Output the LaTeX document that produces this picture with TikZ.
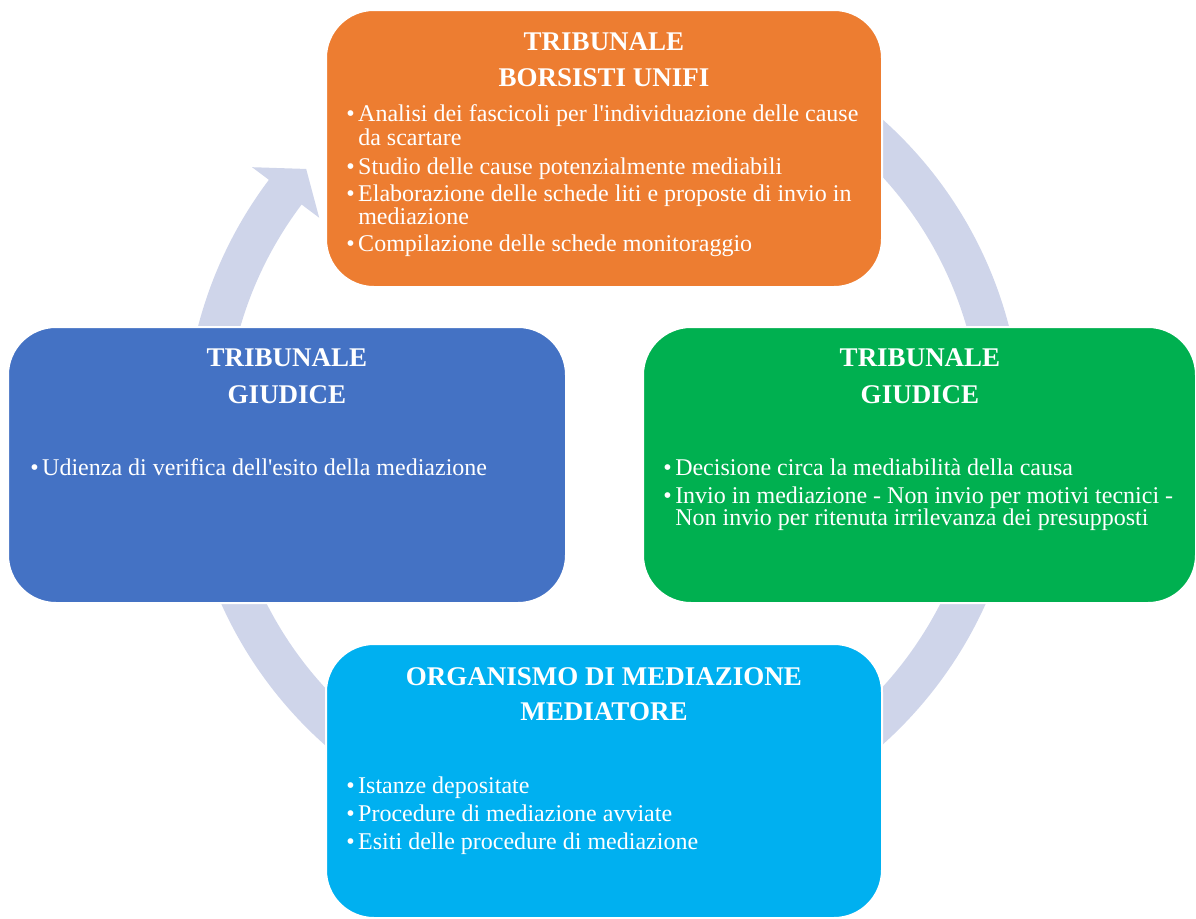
\documentclass[tikz,border=0pt]{standalone}
\usepackage{fontspec}
\setmainfont{Liberation Serif}
\usetikzlibrary{calc}
\definecolor{orangebox}{HTML}{ED7D31}
\definecolor{bluebox}{HTML}{4472C4}
\definecolor{greenbox}{HTML}{00B050}
\definecolor{cyanbox}{HTML}{00B0F0}
\definecolor{ringcol}{HTML}{CFD5EA}
\newcommand{\mybullet}{\makebox[9pt][l]{\textbullet}}
\begin{document}
\begin{tikzpicture}[x=0.75pt,y=-0.75pt,
  card/.style={rounded corners=36pt, draw=white, line width=1.5pt, minimum width=417pt, minimum height=207.75pt, inner sep=0pt},
  headtext/.style={text=white, font=\fontsize{20.25pt}{24pt}\selectfont\bfseries, anchor=base, inner sep=0pt},
  bodytext/.style={text=white, font=\fontsize{18pt}{20pt}\selectfont, anchor=base west, inner sep=0pt}]
\useasboundingbox (0,0) rectangle (1196,918);
\coordinate (C) at (603.5,432);
% circular arrow
\fill[ringcol] ($(C)+(-100:419)$) arc[start angle=-100,end angle=217,radius=419]
  -- ($(C)+(217:440)$) -- ($(C)+(221.5:397)$) -- ($(C)+(217:356)$)
  -- ($(C)+(217:378)$) arc[start angle=217,end angle=-100,radius=378] -- cycle;
% boxes
\node[card, fill=orangebox] (top) at (604,148.5) {};
\node[card, fill=bluebox, minimum width=418.5pt, minimum height=207pt] (left) at (287,465) {};
\node[card, fill=greenbox, minimum width=414.75pt, minimum height=207pt] (right) at (919.5,465) {};
\node[card, fill=cyanbox, minimum height=205.5pt] (bottom) at (604,781) {};
% top box text
\node[headtext] (t1) at (604,50.7) {TRIBUNALE};
\node[headtext] (t2) at (604,86.7) {BORSISTI UNIFI};
\node[bodytext] (t3) at (346,121.7) {\mybullet Analisi dei fascicoli per l\textquotesingle individuazione delle cause};
\node[bodytext] (t4) at (358,145) {da scartare};
\node[bodytext] (t5) at (346,174) {\mybullet Studio delle cause potenzialmente mediabili};
\node[bodytext] (t6) at (346,201.7) {\mybullet Elaborazione delle schede liti e proposte di invio in};
\node[bodytext] (t7) at (358,224) {mediazione};
\node[bodytext] (t8) at (346,251) {\mybullet Compilazione delle schede monitoraggio};
% left box text
\node[headtext] (l1) at (287,366.7) {TRIBUNALE};
\node[headtext] (l2) at (287,403) {GIUDICE};
\node[bodytext] (l3) at (30,475) {\mybullet Udienza di verifica dell\textquotesingle esito della mediazione};
% right box text
\node[headtext] (r1) at (920,366.7) {TRIBUNALE};
\node[headtext] (r2) at (920,403) {GIUDICE};
\node[bodytext] (r3) at (663,475) {\mybullet Decisione circa la mediabilità della causa};
\node[bodytext] (r4) at (663,503) {\mybullet Invio in mediazione - Non invio per motivi tecnici -};
\node[bodytext] (r5) at (675,525) {Non invio per ritenuta irrilevanza dei presupposti};
% bottom box text
\node[headtext] (b1) at (604,685) {ORGANISMO DI MEDIAZIONE};
\node[headtext] (b2) at (604,720.7) {MEDIATORE};
\node[bodytext] (b3) at (346,793.3) {\mybullet Istanze depositate};
\node[bodytext] (b4) at (346,821.7) {\mybullet Procedure di mediazione avviate};
\node[bodytext] (b5) at (346,849.3) {\mybullet Esiti delle procedure di mediazione};
\end{tikzpicture}
\end{document}
